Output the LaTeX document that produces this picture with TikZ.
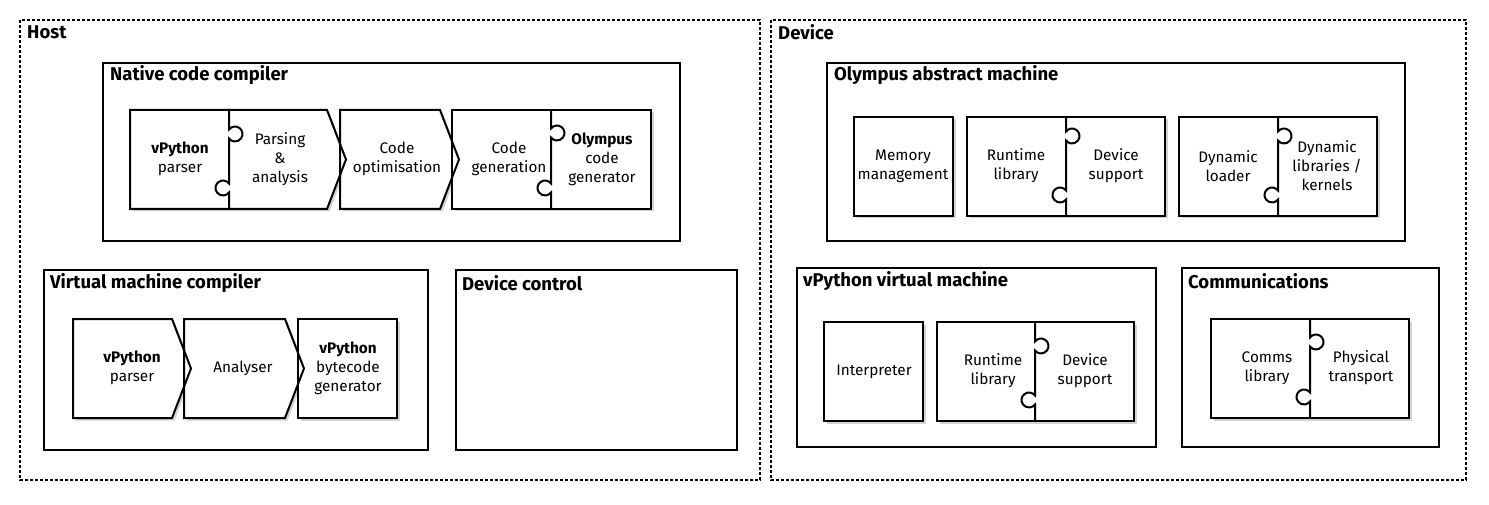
\documentclass[tikz,border=0pt]{standalone}
\usepackage{fontspec}
\setmainfont{Fira Sans}
\usetikzlibrary{shadows}

\tikzset{
  group/.style={draw, line width=1.5pt, dash pattern=on 3pt off 2pt},
  panel/.style={draw, line width=1.6pt},
  part/.style={fill=white, drop shadow={shadow xshift=2.5pt, shadow yshift=-2.5pt, opacity=0.35}},
  outline/.style={draw, line width=2pt, line join=miter},
  title/.style={anchor=west, inner sep=0pt, font=\bfseries\fontsize{18.5}{21}\selectfont},
  label/.style={align=center, inner sep=0pt, font=\fontsize{15.3}{19}\selectfont},
}

\begin{document}
\begin{tikzpicture}[x=1pt, y=-1pt]
\useasboundingbox (0,0) rectangle (1489,505);

% Host and device
\draw[group] (20,20) rectangle (760,480);
\node[title] (host) at (27,32) {Host};
\draw[group] (771,20) rectangle (1466,480);
\node[title] (device) at (778,32) {Device};

% Panels
\draw[panel] (103,63) rectangle (680,241);
\node[title] (native) at (110,75) {Native code compiler};
\draw[panel] (44,270) rectangle (428,450);
\node[title] (vmcomp) at (50,283) {Virtual machine compiler};
\draw[panel] (456,270) rectangle (737,450);
\node[title] (devctl) at (462,283) {Device control};
\draw[panel] (827,63) rectangle (1405,241);
\node[title] (olympus) at (834,75) {Olympus abstract machine};
\draw[panel] (797,268) rectangle (1156,447);
\node[title] (vpyvm) at (803,281) {vPython virtual machine};
\draw[panel] (1182,268) rectangle (1439,447);
\node[title] (comms) at (1188,281) {Communications};

% Part fills with shadows
\foreach \xa/\xb/\ya/\yb in {130/327/110/209, 340/440/110/209, 73/172/319/418, 184/285/319/418}
  \path[part] (\xa,\ya) -- (\xb,\ya) -- ({\xb+19},{(\ya+\yb)/2}) -- (\xb,\yb) -- (\xa,\yb) -- cycle;
\foreach \xa/\xb/\ya/\yb in {452/651/110/209, 298/397/319/418, 854/953/117/216, 967/1165/117/216,
    1179/1377/117/216, 824/923/322/421, 937/1134/322/421, 1211/1409/319/418}
  \path[part] (\xa,\ya) rectangle (\xb,\yb);

% Part outlines
\foreach \xa/\xb/\ya/\yb in {130/327/110/209, 340/440/110/209, 73/172/319/418, 184/285/319/418}
  \draw[outline] (\xa,\ya) -- (\xb,\ya) -- ({\xb+19},{(\ya+\yb)/2}) -- (\xb,\yb) -- (\xa,\yb) -- cycle;
\foreach \xa/\xb/\ya/\yb in {452/651/110/209, 298/397/319/418, 854/953/117/216, 967/1165/117/216,
    1179/1377/117/216, 824/923/322/421, 937/1134/322/421, 1211/1409/319/418}
  \draw[outline] (\xa,\ya) rectangle (\xb,\yb);

% Puzzle joints
\foreach \x/\ya/\yb/\ca/\cb in {229/110/209/134/188, 551/110/209/133/188, 1066/117/216/136/195,
    1278/117/216/136/195, 1035/322/421/346/400, 1310/319/418/342/397}
  \draw[outline] (\x,\ya) -- (\x,\ca-4.5) arc[start angle=-143.13, end angle=143.13, radius=7.5]
    -- (\x,\cb-4.5) arc[start angle=-36.87, end angle=-323.13, radius=7.5] -- (\x,\yb);

% Native code compiler
\node[label] (nparser) at (180,159) {\textbf{vPython}\\parser};
\node[label] (nanalysis) at (280,159) {Parsing\\\&\\analysis};
\node[label] (nopt) at (397,159) {Code\\optimisation};
\node[label] (ngen) at (509,159) {Code\\generation};
\node[label] (ncodegen) at (602,159) {\textbf{Olympus}\\code\\generator};

% Virtual machine compiler
\node[label] (vparser) at (132,368) {\textbf{vPython}\\parser};
\node[label] (vanalyser) at (243,368) {Analyser};
\node[label] (vbytecode) at (348,368) {\textbf{vPython}\\bytecode\\generator};

% Olympus abstract machine
\node[label] (memory) at (903,166) {Memory\\management};
\node[label] (oruntime) at (1016,166) {Runtime\\library};
\node[label] (osupport) at (1116,166) {Device\\support};
\node[label] (loader) at (1228,166) {Dynamic\\loader};
\node[label] (kernels) at (1327,166) {Dynamic\\libraries /\\kernels};

% vPython virtual machine
\node[label] (interp) at (874,372) {Interpreter};
\node[label] (vruntime) at (993,371) {Runtime\\library};
\node[label] (vsupport) at (1085,371) {Device\\support};

% Communications
\node[label] (commslib) at (1267,368) {Comms\\library};
\node[label] (transport) at (1361,368) {Physical\\transport};

\end{tikzpicture}
\end{document}
